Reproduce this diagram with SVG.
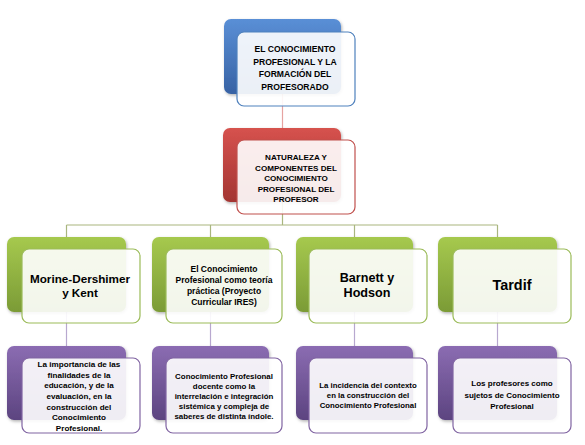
<svg xmlns="http://www.w3.org/2000/svg" width="585" height="445" viewBox="0 0 585 445">
<defs>
<linearGradient id="gBlue" x1="0" y1="0" x2="0" y2="1"><stop offset="0" stop-color="#5a8fd6"/><stop offset="1" stop-color="#3762a4"/></linearGradient>
<linearGradient id="gRed" x1="0" y1="0" x2="0" y2="1"><stop offset="0" stop-color="#d6524e"/><stop offset="1" stop-color="#a33532"/></linearGradient>
<linearGradient id="gGreen" x1="0" y1="0" x2="0" y2="1"><stop offset="0" stop-color="#a6c94e"/><stop offset="1" stop-color="#7b9b36"/></linearGradient>
<linearGradient id="gPurple" x1="0" y1="0" x2="0" y2="1"><stop offset="0" stop-color="#8b6cb2"/><stop offset="1" stop-color="#5c4480"/></linearGradient>
<filter id="sh" x="-10%" y="-10%" width="130%" height="130%"><feDropShadow dx="1" dy="1.5" stdDeviation="1.5" flood-color="#000" flood-opacity="0.3"/></filter>
</defs>
<style>
.front{fill:#ffffff;fill-opacity:0.9;stroke-width:1.2}
.t{font-family:"Liberation Sans",Arial,sans-serif;font-weight:bold;fill:#000;text-anchor:middle}
.cb{stroke:#4f81bd}.cr{stroke:#c0504d}.cg{stroke:#9bbb59}.cp{stroke:#8064a2}
.conn line{stroke-width:1.2;fill:none}
</style>
<rect width="585" height="445" fill="#ffffff"/>
<g id="connectors" class="conn">
<line x1="282.5" y1="94" x2="282.5" y2="128" stroke="#e6a3a1"/>
<line x1="282.5" y1="202" x2="282.5" y2="225" stroke="#a9b67f"/>
<line x1="66.5" y1="225" x2="497.5" y2="225" stroke="#a9b67f"/>
<line x1="66.5" y1="225" x2="66.5" y2="237" stroke="#a9b67f"/>
<line x1="210.5" y1="225" x2="210.5" y2="237" stroke="#a9b67f"/>
<line x1="354.5" y1="225" x2="354.5" y2="237" stroke="#a9b67f"/>
<line x1="497.5" y1="225" x2="497.5" y2="237" stroke="#a9b67f"/>
<line x1="66.5" y1="312" x2="66.5" y2="346" stroke="#b8a8cf"/>
<line x1="210.5" y1="312" x2="210.5" y2="346" stroke="#b8a8cf"/>
<line x1="354.5" y1="312" x2="354.5" y2="346" stroke="#b8a8cf"/>
<line x1="497.5" y1="312" x2="497.5" y2="346" stroke="#b8a8cf"/>
</g>
<g id="n-top">
<rect x="224" y="19" width="117" height="75" rx="7" fill="url(#gBlue)" filter="url(#sh)"/>
<rect x="237" y="32" width="118" height="74" rx="7" class="front cb"/>
<text class="t" font-size="8.6"><tspan x="295" y="52">EL CONOCIMIENTO</tspan><tspan x="295" y="64.5">PROFESIONAL  Y LA</tspan><tspan x="295" y="77">FORMACIÓN  DEL</tspan><tspan x="295" y="89.5">PROFESORADO</tspan></text>
</g>
<g id="n-nat">
<rect x="223" y="128" width="118" height="74" rx="7" fill="url(#gRed)" filter="url(#sh)"/>
<rect x="237" y="140" width="118" height="74" rx="7" class="front cr"/>
<text class="t" font-size="8.1"><tspan x="296" y="160">NATURALEZA Y</tspan><tspan x="296" y="170.5">COMPONENTES DEL</tspan><tspan x="296" y="181">CONOCIMIENTO</tspan><tspan x="296" y="191.5">PROFESIONAL DEL</tspan><tspan x="296" y="202">PROFESOR</tspan></text>
</g>
<g id="n-morine">
<rect x="7" y="237" width="119" height="75" rx="7" fill="url(#gGreen)" filter="url(#sh)"/>
<rect x="22" y="249" width="118" height="74" rx="7" class="front cg"/>
<text class="t" font-size="11.7"><tspan x="80" y="283">Morine-Dershimer</tspan><tspan x="80" y="297">y Kent</tspan></text>
</g>
<g id="n-conoc">
<rect x="152" y="237" width="117" height="75" rx="7" fill="url(#gGreen)" filter="url(#sh)"/>
<rect x="166" y="249" width="116" height="74" rx="7" class="front cg"/>
<text class="t" font-size="8.5"><tspan x="224" y="272">El Conocimiento</tspan><tspan x="224" y="283">Profesional  como teoría</tspan><tspan x="224" y="294">práctica (Proyecto</tspan><tspan x="224" y="305">Curricular  IRES)</tspan></text>
</g>
<g id="n-barnett">
<rect x="296" y="237" width="117" height="75" rx="7" fill="url(#gGreen)" filter="url(#sh)"/>
<rect x="309" y="249" width="118" height="74" rx="7" class="front cg"/>
<text class="t" font-size="12.6"><tspan x="367" y="282">Barnett y</tspan><tspan x="367" y="297">Hodson</tspan></text>
</g>
<g id="n-tardif">
<rect x="438" y="237" width="119" height="75" rx="7" fill="url(#gGreen)" filter="url(#sh)"/>
<rect x="453" y="249" width="118" height="74" rx="7" class="front cg"/>
<text class="t" font-size="14.4" x="512" y="290">Tardif</text>
</g>
<g id="n-p1">
<rect x="7" y="346" width="119" height="74" rx="7" fill="url(#gPurple)" filter="url(#sh)"/>
<rect x="22" y="358" width="118" height="75" rx="7" class="front cp"/>
<text class="t" font-size="8.1"><tspan x="79" y="367">La importancia de las</tspan><tspan x="79" y="377.7">finalidades  de la</tspan><tspan x="79" y="388.3">educación, y de la</tspan><tspan x="79" y="399">evaluación,  en la</tspan><tspan x="79" y="409.7">construcción  del</tspan><tspan x="79" y="420.3">Conocimiento</tspan><tspan x="79" y="431">Profesional.</tspan></text>
</g>
<g id="n-p2">
<rect x="152" y="346" width="117" height="74" rx="7" fill="url(#gPurple)" filter="url(#sh)"/>
<rect x="166" y="358" width="116" height="75" rx="7" class="front cp"/>
<text class="t" font-size="7.9"><tspan x="224" y="379">Conocimiento Profesional</tspan><tspan x="224" y="389">docente como la</tspan><tspan x="224" y="399">interrelación  e integración</tspan><tspan x="224" y="409">sistémica y compleja de</tspan><tspan x="224" y="419">saberes de distinta índole.</tspan></text>
</g>
<g id="n-p3">
<rect x="296" y="346" width="117" height="74" rx="7" fill="url(#gPurple)" filter="url(#sh)"/>
<rect x="309" y="358" width="118" height="75" rx="7" class="front cp"/>
<text class="t" font-size="7.8"><tspan x="368" y="387.5">La incidencia del contexto</tspan><tspan x="368" y="397.5">en la construcción del</tspan><tspan x="368" y="407.5">Conocimiento  Profesional</tspan></text>
</g>
<g id="n-p4">
<rect x="438" y="346" width="119" height="74" rx="7" fill="url(#gPurple)" filter="url(#sh)"/>
<rect x="453" y="358" width="118" height="75" rx="7" class="front cp"/>
<text class="t" font-size="8"><tspan x="512" y="386">Los profesores como</tspan><tspan x="512" y="397.5">sujetos de  Conocimiento</tspan><tspan x="512" y="409">Profesional</tspan></text>
</g>
</svg>
